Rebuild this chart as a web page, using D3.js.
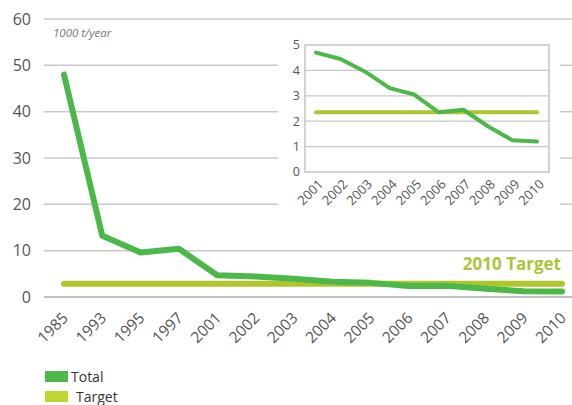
<!DOCTYPE html>
<html><head><meta charset="utf-8">
<script src="https://cdn.jsdelivr.net/npm/d3@7"></script>
<style>body{margin:0;background:#fff;font-family:"Open Sans",Lato,sans-serif;}</style>
</head><body><svg id="c" width="572" height="405"></svg>
<script>
const years = ["1985","1993","1995","1997","2001","2002","2003","2004","2005","2006","2007","2008","2009","2010"];
const totalValues = [48,13.2,9.6,10.4,4.7,4.45,3.95,3.3,3.05,2.35,2.45,1.8,1.25,1.2];
const targetMain = [2.85,2.85,2.85,2.85,2.85,2.85,2.85,2.85,2.85,2.85,2.85,2.85,2.85,2.85];
const insetYears = ["2001","2002","2003","2004","2005","2006","2007","2008","2009","2010"];
const insetTotal = [4.7,4.45,3.95,3.3,3.05,2.35,2.45,1.8,1.25,1.2];
const insetTarget = [2.35,2.35,2.35,2.35,2.35,2.35,2.35,2.35,2.35,2.35];
const mainTicks = [0,10,20,30,40,50,60];
const insetTicks = [0,1,2,3,4,5];

const cTotal = "#4cb849", cTarget = "#b0c52c", cLegTarget = "#bfd631";
const svg = d3.select("#c");

// main chart
const x = d3.scalePoint().domain(years).range([64,562]);
const y = d3.scaleLinear().domain([0,60]).range([297,19]);
svg.append("g").selectAll("line").data(mainTicks).join("line")
  .attr("x1",44).attr("x2",572).attr("y1",d=>y(d)).attr("y2",d=>y(d))
  .attr("stroke",d=>d===0?"#aaa":"#c8c8c8").attr("stroke-width",1.5);
svg.append("g").selectAll("text").data(mainTicks).join("text")
  .attr("x",31).attr("y",d=>y(d)).attr("dy","0.35em").attr("text-anchor","end")
  .attr("font-size",16).attr("fill","#555").text(d=>d);
svg.append("g").selectAll("text").data(years).join("text")
  .attr("transform",d=>`translate(${x(d)+5},${319}) rotate(-45)`)
  .attr("text-anchor","end").attr("font-size",15.5).attr("fill","#555").text(d=>d);
svg.append("text").attr("x",53).attr("y",37).attr("font-size",11.5).attr("font-style","italic")
  .attr("fill","#777").text("1000 t/year");

const line = d3.line().x((d,i)=>x(years[i])).y(d=>y(d));
svg.append("path").datum(targetMain).attr("d",line).attr("fill","none")
  .attr("stroke",cTarget).attr("stroke-width",6).attr("stroke-linecap","round").attr("stroke-linejoin","round");
svg.append("path").datum(totalValues).attr("d",line).attr("fill","none")
  .attr("stroke",cTotal).attr("stroke-width",6).attr("stroke-linecap","round").attr("stroke-linejoin","round");
svg.append("text").attr("x",561).attr("y",270).attr("text-anchor","end")
  .attr("font-size",17).attr("font-weight","bold").attr("fill","#abc43a").text("2010 Target");

// inset
svg.append("rect").attr("x",278).attr("y",30).attr("width",282).attr("height",200).attr("fill","#fff");
const xi = d3.scalePoint().domain(insetYears).range([316,537]);
const yi = d3.scaleLinear().domain([0,5]).range([172,45]);
svg.append("g").selectAll("line").data([1,2,3,4]).join("line")
  .attr("x1",305).attr("x2",549).attr("y1",d=>yi(d)).attr("y2",d=>yi(d))
  .attr("stroke","#c8c8c8").attr("stroke-width",1.2);
svg.append("rect").attr("x",305).attr("y",45).attr("width",244).attr("height",127)
  .attr("fill","none").attr("stroke","#bbb").attr("stroke-width",1.3);
svg.append("g").selectAll("text").data(insetTicks).join("text")
  .attr("x",300).attr("y",d=>yi(d)).attr("dy","0.35em").attr("text-anchor","end")
  .attr("font-size",12.5).attr("fill","#555").text(d=>d);
svg.append("g").selectAll("text").data(insetYears).join("text")
  .attr("transform",d=>`translate(${xi(d)+8},${185}) rotate(-45)`)
  .attr("text-anchor","end").attr("font-size",13).attr("fill","#555").text(d=>d);
const linei = d3.line().x((d,i)=>xi(insetYears[i])).y(d=>yi(d));
svg.append("path").datum(insetTarget).attr("d",linei).attr("fill","none")
  .attr("stroke",cTarget).attr("stroke-width",4).attr("stroke-linecap","round");
svg.append("path").datum(insetTotal).attr("d",linei).attr("fill","none")
  .attr("stroke",cTotal).attr("stroke-width",4).attr("stroke-linecap","round").attr("stroke-linejoin","round");

// legend
const legend = [{k:"Total",c:cTotal,y:371,tx:71},{k:"Target",c:cLegTarget,y:391,tx:76}];
const lg = svg.append("g").selectAll("g").data(legend).join("g");
lg.append("rect").attr("x",45).attr("y",d=>d.y).attr("width",23).attr("height",11).attr("fill",d=>d.c);
lg.append("text").attr("x",d=>d.tx).attr("y",d=>d.y+11).attr("font-size",14).attr("fill","#333").text(d=>d.k);
</script></body></html>
